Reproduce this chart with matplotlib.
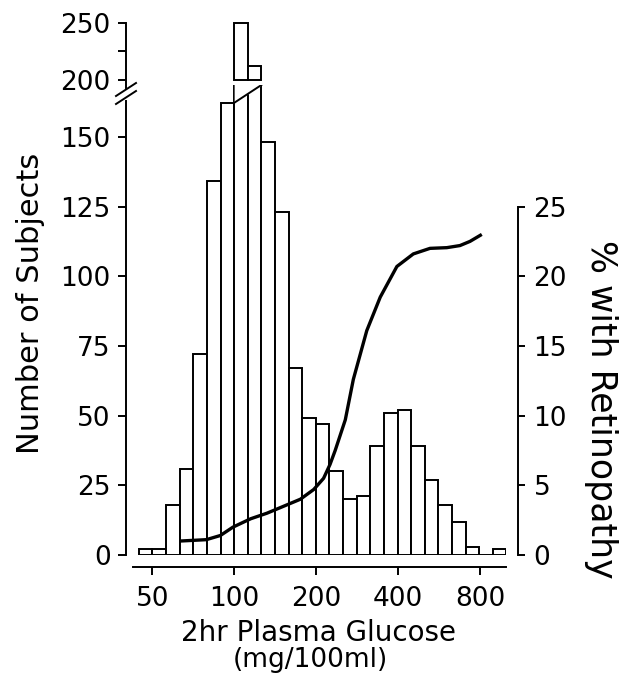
import numpy as np
import matplotlib
matplotlib.use('Agg')
import matplotlib.pyplot as plt
from matplotlib.lines import Line2D
from matplotlib.ticker import FixedLocator, NullLocator

plt.rcParams['font.family'] = ['DejaVu Sans']

# histogram: log10 bins of width 0.05 starting at 10**1.65
bin_start = 1.65
bin_step = 0.05
counts = [2, 2, 18, 31, 72, 134, 162, 250, 212, 148, 123, 67, 49, 47, 30,
          20, 21, 39, 51, 52, 39, 27, 18, 12, 3, 0, 2]

# smoothed % with retinopathy
curve_x = [63, 79, 89, 99, 115, 132, 152, 175, 196, 213, 225, 235, 256,
           274, 307, 344, 396, 455, 524, 604, 675, 735, 812]
curve_y = [1.0, 1.1, 1.4, 2.0, 2.6, 3.0, 3.5, 4.0, 4.7, 5.5, 6.5, 7.5, 9.7,
           12.6, 16.1, 18.5, 20.7, 21.6, 22.0, 22.05, 22.2, 22.5, 23.0]

xticks = [50, 100, 200, 400, 800]
low_ticks = [0, 25, 50, 75, 100, 125, 150]
up_ticks = [200, 225, 250]
up_labels = ['200', '', '250']
pct_ticks = [0, 5, 10, 15, 20, 25]

W, H = 621, 675
fig = plt.figure(figsize=(W / 100, H / 100), dpi=100)
left = 133 / W
width = (506.4 - 133) / W
ax = fig.add_axes([left, (H - 555) / H, width, 470 / H])
axt = fig.add_axes([left, (H - 90) / H, width, 70 / H])

k = np.arange(len(counts))
lo = 10 ** (bin_start + bin_step * k)
hi = 10 ** (bin_start + bin_step * (k + 1))
c = np.array(counts, dtype=float)

lw = 1.4
fs = 19
xlim = (42.5, 1000)
low_top = 168.6

# lower panel
ax.bar(lo, c, width=hi - lo, align='edge', facecolor='white',
       edgecolor='black', linewidth=lw)
ax.set_xscale('log')
ax.set_xlim(*xlim)
ax.set_ylim(0, low_top)
# slanted break across the tallest bars
bx = [lo[7], hi[8]]
by = [162.2, low_top]
ax.fill_between(bx, by, [low_top + 5, low_top + 5], color='white', zorder=3,
                linewidth=0)
ax.plot(bx, by, color='black', lw=lw, zorder=4)

for s in ['top', 'right']:
    ax.spines[s].set_visible(False)
ax.spines['left'].set_position(('outward', 5))
ax.spines['left'].set_bounds(0, 163)
ax.spines['bottom'].set_position(('outward', 8.6))
for s in ['left', 'bottom']:
    ax.spines[s].set_linewidth(lw)
ax.xaxis.set_major_locator(FixedLocator(xticks))
ax.xaxis.set_minor_locator(NullLocator())
ax.set_xticklabels([str(t) for t in xticks])
ax.set_yticks(low_ticks)
ax.set_yticklabels([str(t) for t in low_ticks])
ax.tick_params(direction='out', length=6, width=lw, labelsize=fs, pad=5)
ax.tick_params(axis='x', pad=8)

# upper panel
up = c > 200
axt.bar(lo[up], c[up] - 200, bottom=200, width=(hi - lo)[up], align='edge',
        facecolor='white', edgecolor='black', linewidth=lw)
axt.set_xscale('log')
axt.set_xlim(*xlim)
axt.set_ylim(191.2, 252.6)
for s in ['top', 'right', 'bottom']:
    axt.spines[s].set_visible(False)
axt.spines['left'].set_position(('outward', 5))
axt.spines['left'].set_bounds(193, 250)
axt.spines['left'].set_linewidth(lw)
axt.set_xticks([])
axt.xaxis.set_minor_locator(NullLocator())
axt.set_yticks(up_ticks)
axt.set_yticklabels(up_labels)
axt.tick_params(direction='out', length=6, width=lw, labelsize=fs, pad=5)
axt.patch.set_visible(False)

# right axis: % with retinopathy
axr = ax.twinx()
axr.set_ylim(0, low_top / 5)
axr.plot(curve_x, curve_y, color='black', lw=2.4, solid_capstyle='butt',
         solid_joinstyle='round')
for s in ['top', 'left', 'bottom']:
    axr.spines[s].set_visible(False)
axr.spines['right'].set_position(('outward', 8.6))
axr.spines['right'].set_bounds(0, 25)
axr.spines['right'].set_linewidth(lw)
axr.set_yticks(pct_ticks)
axr.set_yticklabels([str(t) for t in pct_ticks])
axr.tick_params(direction='out', length=5, width=lw, labelsize=fs, pad=6)

# break marks on the left axis
for y0 in (96, 104):
    fig.add_artist(Line2D([116 / W, 136 / W], [1 - y0 / H, 1 - (y0 - 13) / H],
                          color='black', lw=lw))

fig.text(31 / W, 1 - 303 / H, 'Number of Subjects', rotation=90,
         ha='center', va='center', fontsize=22)
fig.text(601 / W, 1 - 409 / H, '% with Retinopathy', rotation=270,
         ha='center', va='center', fontsize=25)
fig.text(318 / W, 1 - 633 / H, '2hr Plasma Glucose', ha='center',
         va='center', fontsize=20)
fig.text(310 / W, 1 - 660 / H, '(mg/100ml)', ha='center', va='center',
         fontsize=19)

fig.savefig('out.png', dpi=100)
